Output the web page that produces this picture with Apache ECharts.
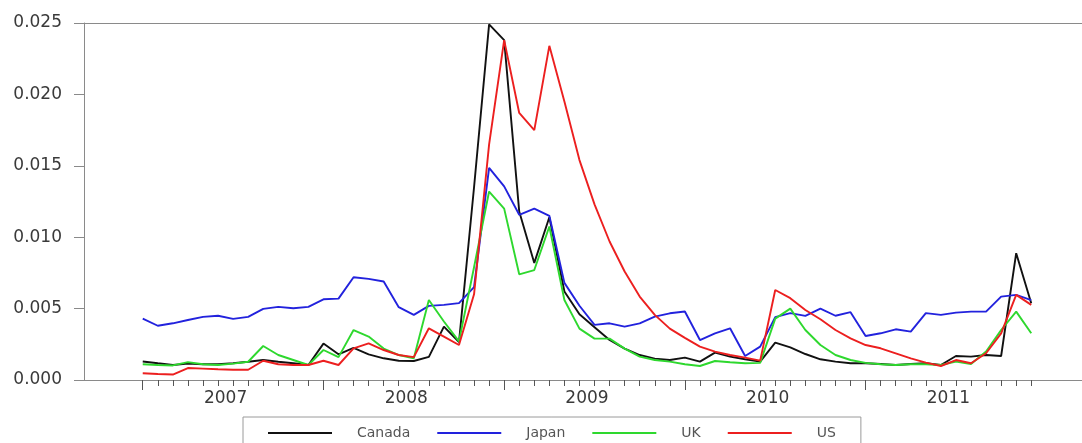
<!DOCTYPE html>
<html>
<head>
<meta charset="utf-8">
<title>Canada, Japan, UK, US</title>
<script src="https://cdn.jsdelivr.net/npm/echarts@6/dist/echarts.min.js"></script>
<style>
  html, body { margin: 0; padding: 0; background: #fff; }
  #chart { width: 1082px; height: 443px; }
</style>
</head>
<body>
<div id="chart"></div>
<script>
// Monthly observations, January 2007 to December 2011 (60 months)
const years = ['2007', '2008', '2009', '2010', '2011'];
const seriesNames = ['Canada', 'Japan', 'UK', 'US'];

const canada = [
  0.00130, 0.00117, 0.00105, 0.00115, 0.00110, 0.00110, 0.00117, 0.00128, 0.00140, 0.00128, 0.00117, 0.00105,
  0.00255, 0.00180, 0.00225, 0.00180, 0.00152, 0.00135, 0.00133, 0.00162, 0.00374, 0.00265, 0.01350, 0.02490,
  0.02380, 0.01180, 0.00820, 0.01140, 0.00620, 0.00460, 0.00370, 0.00280, 0.00220, 0.00175, 0.00150, 0.00140,
  0.00157, 0.00129, 0.00192, 0.00164, 0.00145, 0.00129, 0.00262, 0.00229, 0.00182, 0.00145, 0.00129, 0.00117,
  0.00117, 0.00112, 0.00105, 0.00112, 0.00117, 0.00105, 0.00168, 0.00164, 0.00175, 0.00168, 0.00888, 0.00538
];
const japan = [
  0.00430, 0.00380, 0.00397, 0.00420, 0.00442, 0.00450, 0.00428, 0.00442, 0.00498, 0.00512, 0.00502, 0.00512,
  0.00565, 0.00570, 0.00720, 0.00708, 0.00690, 0.00510, 0.00456, 0.00519, 0.00526, 0.00538, 0.00650, 0.01485,
  0.01356, 0.01157, 0.01200, 0.01150, 0.00680, 0.00520, 0.00386, 0.00397, 0.00374, 0.00397, 0.00444, 0.00467,
  0.00480, 0.00280, 0.00327, 0.00362, 0.00168, 0.00234, 0.00440, 0.00468, 0.00449, 0.00500, 0.00450, 0.00475,
  0.00308, 0.00327, 0.00355, 0.00339, 0.00468, 0.00456, 0.00472, 0.00479, 0.00479, 0.00584, 0.00596, 0.00560
];
const uk = [
  0.00110, 0.00105, 0.00102, 0.00125, 0.00110, 0.00105, 0.00115, 0.00128, 0.00238, 0.00175, 0.00140, 0.00105,
  0.00210, 0.00160, 0.00350, 0.00304, 0.00220, 0.00175, 0.00152, 0.00560, 0.00410, 0.00270, 0.00790, 0.01320,
  0.01200, 0.00740, 0.00770, 0.01075, 0.00560, 0.00360, 0.00290, 0.00290, 0.00220, 0.00164, 0.00140, 0.00129,
  0.00110, 0.00098, 0.00133, 0.00124, 0.00117, 0.00120, 0.00430, 0.00500, 0.00350, 0.00245, 0.00175, 0.00140,
  0.00120, 0.00110, 0.00105, 0.00110, 0.00110, 0.00105, 0.00129, 0.00112, 0.00199, 0.00350, 0.00479, 0.00327
];
const us = [
  0.00047, 0.00042, 0.00038, 0.00084, 0.00080, 0.00075, 0.00072, 0.00072, 0.00135, 0.00110, 0.00105, 0.00105,
  0.00135, 0.00105, 0.00222, 0.00257, 0.00210, 0.00175, 0.00160, 0.00362, 0.00304, 0.00245, 0.00600, 0.01650,
  0.02380, 0.01870, 0.01750, 0.02340, 0.01950, 0.01540, 0.01230, 0.00970, 0.00760, 0.00584, 0.00456, 0.00360,
  0.00295, 0.00234, 0.00199, 0.00175, 0.00157, 0.00136, 0.00630, 0.00573, 0.00490, 0.00425, 0.00350, 0.00292,
  0.00245, 0.00222, 0.00187, 0.00152, 0.00122, 0.00098, 0.00140, 0.00117, 0.00187, 0.00327, 0.00596, 0.00526
];
const yTicks = ['0.000', '0.005', '0.010', '0.015', '0.020', '0.025'];

const colors = ['#111111', '#2222dd', '#2ed82e', '#ec1f1f'];
const allSeries = [canada, japan, uk, us];

// Month index positions: 0 = Jan 2007; the visible range runs a little past both ends
const X_MIN = -3.9;
const X_MAX = 62.37;
const monthTicks = canada.map((_, i) => i);
const yearStarts = years.map((_, k) => k * 12);
const yearCentres = years.map((_, k) => k * 12 + 5.5);

const FONT = '"DejaVu Sans", sans-serif';
const AXIS_GREY = '#8a8a8a';
const TICK_GREY = '#555555';

const chart = echarts.init(document.getElementById('chart'), null, { renderer: 'canvas' });

const baseAxis = extra => Object.assign({
  type: 'value',
  min: X_MIN,
  max: X_MAX,
  position: 'bottom',
  splitLine: { show: false },
  axisLine: { show: false, onZero: false },
  axisLabel: { show: false }
}, extra);

chart.setOption({
  animation: false,
  backgroundColor: '#ffffff',
  grid: { left: 84, right: 0, top: 23, bottom: 63 },
  legend: {
    data: seriesNames,
    left: 243,
    top: 417,
    orient: 'horizontal',
    icon: 'rect',
    itemWidth: 64,
    itemHeight: 2,
    itemGap: 27,
    padding: [9, 25, 9, 25],
    borderColor: '#9a9a9a',
    borderWidth: 1,
    textStyle: {
      fontFamily: FONT,
      fontSize: 14,
      color: '#555555',
      padding: [0, 0, 0, 20]
    }
  },
  xAxis: [
    // axis line, year labels and the longer ticks at the start of each year
    baseAxis({
      axisLine: { show: true, onZero: false, lineStyle: { color: AXIS_GREY, width: 1 } },
      axisTick: {
        show: true,
        customValues: yearStarts,
        length: 10,
        lineStyle: { color: TICK_GREY, width: 1 }
      },
      axisLabel: {
        show: true,
        customValues: yearCentres,
        formatter: v => years[Math.round((v - 5.5) / 12)],
        margin: 10,
        fontFamily: FONT,
        fontSize: 17,
        color: '#3a3a3a'
      }
    }),
    // short ticks for every month
    baseAxis({
      axisTick: {
        show: true,
        customValues: monthTicks,
        interval: 0,
        length: 6,
        lineStyle: { color: TICK_GREY, width: 1 }
      }
    }),
    // top frame line
    baseAxis({
      position: 'top',
      axisLine: { show: true, onZero: false, lineStyle: { color: AXIS_GREY, width: 1 } },
      axisTick: { show: false }
    })
  ],
  yAxis: {
    type: 'value',
    min: 0,
    max: 0.025,
    interval: 0.005,
    position: 'left',
    splitLine: { show: false },
    axisLine: { show: true, onZero: false, lineStyle: { color: AXIS_GREY, width: 1 } },
    axisTick: { show: true, length: 10, lineStyle: { color: AXIS_GREY, width: 1 } },
    axisLabel: {
      formatter: v => yTicks[Math.round(v / 0.005)],
      margin: 22,
      fontFamily: FONT,
      fontSize: 17,
      color: '#3a3a3a'
    }
  },
  series: seriesNames.map((name, s) => ({
    name: name,
    type: 'line',
    xAxisIndex: 0,
    symbol: 'none',
    color: colors[s],
    lineStyle: { color: colors[s], width: 1.9 },
    data: allSeries[s].map((v, i) => [i, v])
  }))
});
</script>
</body>
</html>
